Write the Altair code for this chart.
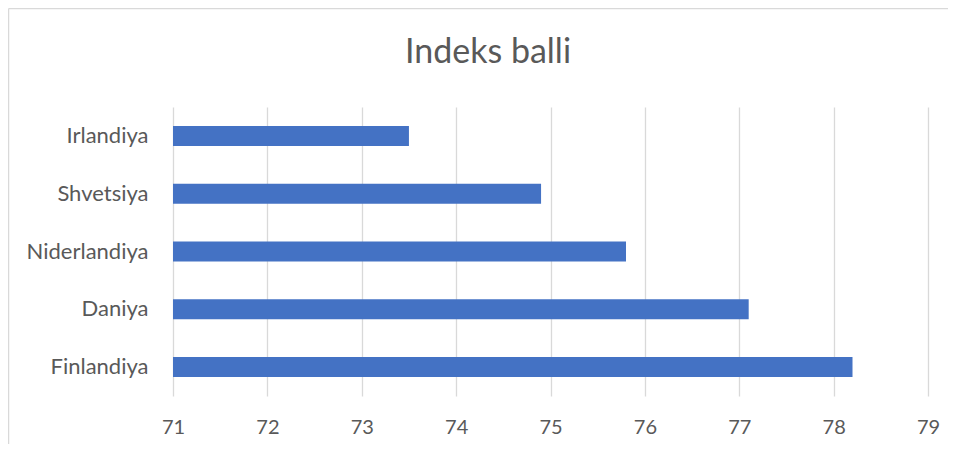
import altair as alt
import pandas as pd

countries = ["Irlandiya", "Shvetsiya", "Niderlandiya", "Daniya", "Finlandiya"]
scores = [73.5, 74.9, 75.8, 77.1, 78.2]
x_ticks = [71, 72, 73, 74, 75, 76, 77, 78, 79]
title_text = "Indeks balli"

df = pd.DataFrame({"country": countries, "score": scores})

FONT = "Lato"
GREY = "#595959"
GRID = "#d9d9d9"

bars = alt.Chart(df).mark_bar(size=20, color="#4472C4").encode(
    x=alt.X(
        "score:Q",
        scale=alt.Scale(domain=[x_ticks[0], x_ticks[-1]], zero=False, nice=False),
        axis=alt.Axis(
            values=x_ticks, title=None, grid=True, gridColor=GRID, gridWidth=1.3,
            domain=False, ticks=False, tickSize=0, labelPadding=21, labelFlush=False,
            labelFont=FONT, labelFontSize=20, labelColor=GREY,
        ),
    ),
    x2=alt.X2(datum=x_ticks[0]),
    y=alt.Y(
        "country:N", sort=countries, title=None,
        axis=alt.Axis(
            domain=False, ticks=False, tickSize=0, labelPadding=25, grid=False,
            labelFont=FONT, labelFontSize=22, labelColor=GREY,
        ),
    ),
)

# outer chart frame (only top and left edges are visible in the reference)
frame_src = alt.Chart(pd.DataFrame({"a": [0]}))
frame_top = frame_src.mark_rule(stroke=GRID, strokeWidth=1.3).encode(
    x=alt.value(-164.4), x2=alt.value(800), y=alt.value(-98.4)
)
frame_left = frame_src.mark_rule(stroke=GRID, strokeWidth=1.3).encode(
    x=alt.value(-164.4), y=alt.value(-98.4), y2=alt.value(400)
)

title = alt.Chart(pd.DataFrame({"t": [title_text]})).mark_text(
    font=FONT, fontSize=34, color=GREY, align="center", baseline="alphabetic"
).encode(text="t:N", x=alt.value(315), y=alt.value(-44))

chart = alt.layer(frame_top, frame_left, bars, title).properties(
    width=755,
    height=289,
    background="white",
    autosize=alt.AutoSizeParams(type="none"),
    padding={"left": 165, "top": 99, "right": 20, "bottom": 48},
).configure_view(stroke=None)

chart.save("out.html", embed_options={"renderer": "svg", "actions": False})
